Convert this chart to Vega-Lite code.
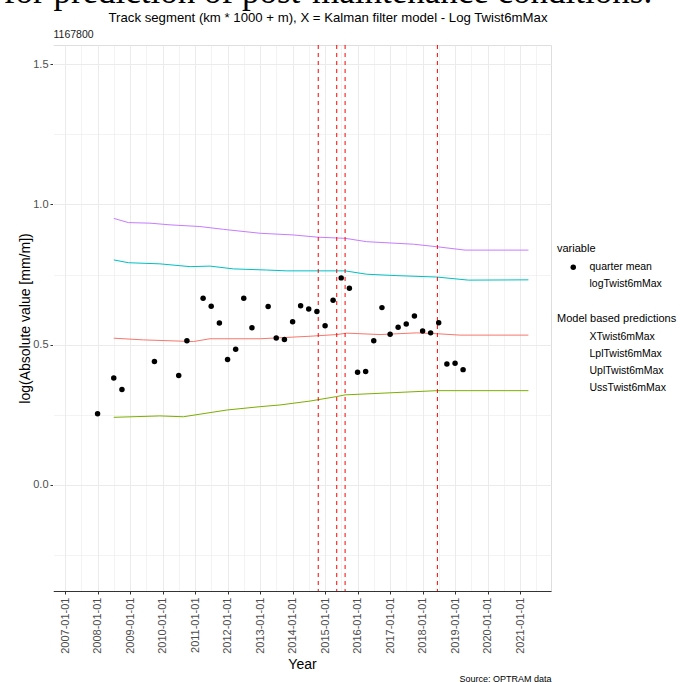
{
  "$schema": "https://vega.github.io/schema/vega-lite/v6.json",
  "autosize": {"type": "none"},
  "width": 498,
  "height": 546,
  "padding": {"left": 53, "top": 45, "right": 143, "bottom": 91},
  "background": "white",
  "config": {
    "font": "Liberation Sans",
    "view": {"stroke": "#dedede", "strokeWidth": 1},
    "legend": {
      "titleFontSize": 11,
      "titleFontWeight": "normal",
      "titleColor": "black",
      "labelFontSize": 10.5,
      "labelColor": "black",
      "symbolSize": 30,
      "rowPadding": 6,
      "titlePadding": 8,
      "symbolOffset": 11,
      "labelOffset": 11
    }
  },
  "title": {
    "text": "\u00a0\u00a0for prediction of post-maintenance conditions.",
    "subtitle": "Track segment (km * 1000 + m), X = Kalman filter model - Log Twist6mMax",
    "anchor": "middle",
    "frame": "group",
    "font": "Liberation Serif",
    "fontSize": 35,
    "fontWeight": "normal",
    "color": "black",
    "subtitleFont": "Liberation Sans",
    "subtitleFontSize": 13.2,
    "subtitleColor": "black",
    "subtitlePadding": 2,
    "dx": 26,
    "offset": 5
  },
  "datasets": {
    "points": [
      {"variable": "quarter mean", "date": "2008-01-01", "value": 0.254},
      {"variable": "quarter mean", "date": "2008-07-01", "value": 0.381},
      {"variable": "quarter mean", "date": "2008-10-01", "value": 0.340},
      {"variable": "quarter mean", "date": "2009-10-01", "value": 0.440},
      {"variable": "quarter mean", "date": "2010-07-01", "value": 0.390},
      {"variable": "quarter mean", "date": "2010-10-01", "value": 0.514},
      {"variable": "quarter mean", "date": "2011-04-01", "value": 0.665},
      {"variable": "quarter mean", "date": "2011-07-01", "value": 0.637},
      {"variable": "quarter mean", "date": "2011-10-01", "value": 0.577},
      {"variable": "quarter mean", "date": "2012-01-01", "value": 0.447},
      {"variable": "quarter mean", "date": "2012-04-01", "value": 0.484},
      {"variable": "quarter mean", "date": "2012-07-01", "value": 0.665},
      {"variable": "quarter mean", "date": "2012-10-01", "value": 0.560},
      {"variable": "quarter mean", "date": "2013-04-01", "value": 0.636},
      {"variable": "quarter mean", "date": "2013-07-01", "value": 0.524},
      {"variable": "quarter mean", "date": "2013-10-01", "value": 0.518},
      {"variable": "quarter mean", "date": "2014-01-01", "value": 0.582},
      {"variable": "quarter mean", "date": "2014-04-01", "value": 0.639},
      {"variable": "quarter mean", "date": "2014-07-01", "value": 0.627},
      {"variable": "quarter mean", "date": "2014-10-01", "value": 0.618},
      {"variable": "quarter mean", "date": "2015-01-01", "value": 0.567},
      {"variable": "quarter mean", "date": "2015-04-01", "value": 0.658},
      {"variable": "quarter mean", "date": "2015-07-01", "value": 0.738},
      {"variable": "quarter mean", "date": "2015-10-01", "value": 0.701},
      {"variable": "quarter mean", "date": "2016-01-01", "value": 0.402},
      {"variable": "quarter mean", "date": "2016-04-01", "value": 0.404},
      {"variable": "quarter mean", "date": "2016-07-01", "value": 0.514},
      {"variable": "quarter mean", "date": "2016-10-01", "value": 0.632},
      {"variable": "quarter mean", "date": "2017-01-01", "value": 0.537},
      {"variable": "quarter mean", "date": "2017-04-01", "value": 0.562},
      {"variable": "quarter mean", "date": "2017-07-01", "value": 0.574},
      {"variable": "quarter mean", "date": "2017-10-01", "value": 0.602},
      {"variable": "quarter mean", "date": "2018-01-01", "value": 0.549},
      {"variable": "quarter mean", "date": "2018-04-01", "value": 0.542},
      {"variable": "quarter mean", "date": "2018-07-01", "value": 0.578},
      {"variable": "quarter mean", "date": "2018-10-01", "value": 0.431},
      {"variable": "quarter mean", "date": "2019-01-01", "value": 0.434},
      {"variable": "quarter mean", "date": "2019-04-01", "value": 0.411}
    ],
    "lines": [
      {"series": "UssTwist6mMax", "date": "2008-07-01", "value": 0.950},
      {"series": "UssTwist6mMax", "date": "2008-12-13", "value": 0.935},
      {"series": "UssTwist6mMax", "date": "2009-08-12", "value": 0.933},
      {"series": "UssTwist6mMax", "date": "2010-03-25", "value": 0.927},
      {"series": "UssTwist6mMax", "date": "2011-02-24", "value": 0.921},
      {"series": "UssTwist6mMax", "date": "2011-11-14", "value": 0.911},
      {"series": "UssTwist6mMax", "date": "2013-01-01", "value": 0.897},
      {"series": "UssTwist6mMax", "date": "2014-01-08", "value": 0.891},
      {"series": "UssTwist6mMax", "date": "2014-10-12", "value": 0.883},
      {"series": "UssTwist6mMax", "date": "2015-08-14", "value": 0.879},
      {"series": "UssTwist6mMax", "date": "2016-04-12", "value": 0.867},
      {"series": "UssTwist6mMax", "date": "2017-09-20", "value": 0.858},
      {"series": "UssTwist6mMax", "date": "2018-06-10", "value": 0.849},
      {"series": "UssTwist6mMax", "date": "2019-04-23", "value": 0.837},
      {"series": "UssTwist6mMax", "date": "2021-04-04", "value": 0.837},
      {"series": "UplTwist6mMax", "date": "2008-07-01", "value": 0.802},
      {"series": "UplTwist6mMax", "date": "2008-12-13", "value": 0.792},
      {"series": "UplTwist6mMax", "date": "2009-12-01", "value": 0.788},
      {"series": "UplTwist6mMax", "date": "2010-11-06", "value": 0.778},
      {"series": "UplTwist6mMax", "date": "2011-06-17", "value": 0.780},
      {"series": "UplTwist6mMax", "date": "2012-03-07", "value": 0.770},
      {"series": "UplTwist6mMax", "date": "2013-03-15", "value": 0.766},
      {"series": "UplTwist6mMax", "date": "2013-10-27", "value": 0.763},
      {"series": "UplTwist6mMax", "date": "2015-08-14", "value": 0.763},
      {"series": "UplTwist6mMax", "date": "2016-04-12", "value": 0.751},
      {"series": "UplTwist6mMax", "date": "2017-03-18", "value": 0.746},
      {"series": "UplTwist6mMax", "date": "2018-06-10", "value": 0.741},
      {"series": "UplTwist6mMax", "date": "2019-05-30", "value": 0.730},
      {"series": "UplTwist6mMax", "date": "2021-04-04", "value": 0.731},
      {"series": "XTwist6mMax", "date": "2008-07-01", "value": 0.523},
      {"series": "XTwist6mMax", "date": "2009-05-30", "value": 0.517},
      {"series": "XTwist6mMax", "date": "2010-12-13", "value": 0.511},
      {"series": "XTwist6mMax", "date": "2011-06-17", "value": 0.521},
      {"series": "XTwist6mMax", "date": "2013-01-01", "value": 0.521},
      {"series": "XTwist6mMax", "date": "2014-07-16", "value": 0.530},
      {"series": "XTwist6mMax", "date": "2015-05-12", "value": 0.536},
      {"series": "XTwist6mMax", "date": "2015-09-02", "value": 0.541},
      {"series": "XTwist6mMax", "date": "2016-09-10", "value": 0.536},
      {"series": "XTwist6mMax", "date": "2017-10-27", "value": 0.542},
      {"series": "XTwist6mMax", "date": "2018-06-10", "value": 0.539},
      {"series": "XTwist6mMax", "date": "2019-02-24", "value": 0.534},
      {"series": "XTwist6mMax", "date": "2021-04-04", "value": 0.534},
      {"series": "LplTwist6mMax", "date": "2008-07-01", "value": 0.241},
      {"series": "LplTwist6mMax", "date": "2009-12-01", "value": 0.246},
      {"series": "LplTwist6mMax", "date": "2010-08-22", "value": 0.243},
      {"series": "LplTwist6mMax", "date": "2011-12-24", "value": 0.267},
      {"series": "LplTwist6mMax", "date": "2013-01-01", "value": 0.279},
      {"series": "LplTwist6mMax", "date": "2013-08-12", "value": 0.285},
      {"series": "LplTwist6mMax", "date": "2014-07-16", "value": 0.299},
      {"series": "LplTwist6mMax", "date": "2015-05-12", "value": 0.315},
      {"series": "LplTwist6mMax", "date": "2015-08-14", "value": 0.321},
      {"series": "LplTwist6mMax", "date": "2018-06-10", "value": 0.336},
      {"series": "LplTwist6mMax", "date": "2021-04-04", "value": 0.336}
    ],
    "vlines": [
      {"date": "2014-10-16"},
      {"date": "2015-05-12"},
      {"date": "2015-08-14"},
      {"date": "2018-06-16"}
    ]
  },
  "resolve": {"axis": {"x": "independent"}},
  "layer": [
    {
      "data": {"name": "lines"},
      "mark": {"type": "line", "strokeWidth": 1},
      "encoding": {
        "x": {
          "field": "date", "type": "temporal",
          "scale": {"type": "utc", "domain": [{"year": 2006, "month": 8, "date": 18, "utc": true}, {"year": 2021, "month": 12, "date": 14, "utc": true}]},
          "axis": {
            "orient": "bottom",
            "values": [
              {"year": 2007, "month": 1, "date": 1, "utc": true}, {"year": 2007, "month": 7, "date": 1, "utc": true},
              {"year": 2008, "month": 1, "date": 1, "utc": true}, {"year": 2008, "month": 7, "date": 1, "utc": true},
              {"year": 2009, "month": 1, "date": 1, "utc": true}, {"year": 2009, "month": 7, "date": 1, "utc": true},
              {"year": 2010, "month": 1, "date": 1, "utc": true}, {"year": 2010, "month": 7, "date": 1, "utc": true},
              {"year": 2011, "month": 1, "date": 1, "utc": true}, {"year": 2011, "month": 7, "date": 1, "utc": true},
              {"year": 2012, "month": 1, "date": 1, "utc": true}, {"year": 2012, "month": 7, "date": 1, "utc": true},
              {"year": 2013, "month": 1, "date": 1, "utc": true}, {"year": 2013, "month": 7, "date": 1, "utc": true},
              {"year": 2014, "month": 1, "date": 1, "utc": true}, {"year": 2014, "month": 7, "date": 1, "utc": true},
              {"year": 2015, "month": 1, "date": 1, "utc": true}, {"year": 2015, "month": 7, "date": 1, "utc": true},
              {"year": 2016, "month": 1, "date": 1, "utc": true}, {"year": 2016, "month": 7, "date": 1, "utc": true},
              {"year": 2017, "month": 1, "date": 1, "utc": true}, {"year": 2017, "month": 7, "date": 1, "utc": true},
              {"year": 2018, "month": 1, "date": 1, "utc": true}, {"year": 2018, "month": 7, "date": 1, "utc": true},
              {"year": 2019, "month": 1, "date": 1, "utc": true}, {"year": 2019, "month": 7, "date": 1, "utc": true},
              {"year": 2020, "month": 1, "date": 1, "utc": true}, {"year": 2020, "month": 7, "date": 1, "utc": true},
              {"year": 2021, "month": 1, "date": 1, "utc": true}, {"year": 2021, "month": 7, "date": 1, "utc": true}
            ],
            "labelExpr": "utcmonth(datum.value) == 0 ? utcFormat(datum.value, '%Y-%m-%d') : ''",
            "labelOverlap": false,
            "labelFlush": false,
            "labelAngle": 270,
            "labelAlign": "right",
            "labelBaseline": "middle",
            "labelFontSize": 11,
            "labelColor": "#4d4d4d",
            "labelPadding": 3,
            "tickSize": 3,
            "tickColor": "#333333",
            "tickOpacity": {"condition": {"test": "utcmonth(datum.value) != 0", "value": 0}, "value": 1},
            "domainColor": "#333333",
            "grid": true,
            "gridColor": "#ebebeb",
            "gridWidth": {"condition": {"test": "utcmonth(datum.value) != 0", "value": 0.6}, "value": 1},
            "title": "Year",
            "titleFontSize": 14,
            "titleFontWeight": "normal",
            "titleColor": "black",
            "titleBaseline": "alphabetic",
            "titleY": 77
          }
        },
        "y": {
          "field": "value", "type": "quantitative",
          "scale": {"domain": [-0.378, 1.568], "nice": false, "zero": false},
          "axis": {
            "values": [-0.25, 0, 0.25, 0.5, 0.75, 1, 1.25, 1.5],
            "labelExpr": "datum.value % 0.5 == 0 ? format(datum.value, '.1f') : ''",
            "labelFontSize": 11,
            "labelColor": "#4d4d4d",
            "labelPadding": 2,
            "tickSize": 3,
            "tickColor": "#333333",
            "tickOpacity": {"condition": {"test": "datum.value % 0.5 != 0", "value": 0}, "value": 1},
            "domain": true,
            "domainColor": "white",
            "grid": true,
            "gridColor": "#ebebeb",
            "gridWidth": {"condition": {"test": "datum.value % 0.5 != 0", "value": 0.6}, "value": 1},
            "title": "log(Absolute value [mm/m])",
            "titleFontSize": 14,
            "titleFontWeight": "normal",
            "titleColor": "black",
            "titleAngle": 270,
            "titleAlign": "center",
            "titleBaseline": "middle",
            "titleX": -28,
            "titleY": 273
          }
        },
        "color": {
          "field": "series", "type": "nominal",
          "scale": {"domain": ["XTwist6mMax", "LplTwist6mMax", "UplTwist6mMax", "UssTwist6mMax"], "range": ["#F8766D", "#7CAE00", "#00BFC4", "#C77CFF"]},
          "legend": {"title": "Model based predictions", "orient": "none", "legendX": 504, "legendY": 268, "symbolType": "circle", "symbolOpacity": 0}
        },
        "detail": {"field": "series"}
      }
    },
    {
      "data": {"name": "vlines"},
      "mark": {"type": "rule", "color": "#ff0000", "strokeWidth": 1, "strokeDash": [4, 4]},
      "encoding": {
        "x": {
          "field": "date", "type": "temporal",
          "scale": {"type": "utc", "domain": [{"year": 2006, "month": 8, "date": 18, "utc": true}, {"year": 2021, "month": 12, "date": 14, "utc": true}]},
          "axis": {
            "orient": "top", "labels": false, "ticks": false, "domain": false, "grid": false,
            "title": "1167800", "titleX": 0, "titleY": -7.5, "titleAlign": "left", "titleBaseline": "alphabetic",
            "titleFontSize": 10.5, "titleFontWeight": "normal", "titleColor": "#1a1a1a"
          }
        }
      }
    },
    {
      "data": {"name": "points"},
      "mark": {"type": "point", "filled": true, "size": 30, "opacity": 1, "color": "black"},
      "encoding": {
        "x": {
          "field": "date", "type": "temporal",
          "scale": {"type": "utc", "domain": [{"year": 2006, "month": 8, "date": 18, "utc": true}, {"year": 2021, "month": 12, "date": 14, "utc": true}]},
          "axis": {
            "orient": "bottom", "labels": false, "ticks": false, "domain": false, "grid": false,
            "title": "Source: OPTRAM data", "titleX": 498, "titleY": 90, "titleAlign": "right", "titleBaseline": "alphabetic",
            "titleFontSize": 9, "titleFontWeight": "normal", "titleColor": "black"
          }
        },
        "y": {"field": "value", "type": "quantitative"},
        "shape": {
          "field": "variable", "type": "nominal",
          "scale": {"domain": ["quarter mean", "logTwist6mMax"], "range": ["circle", "M0,0"]},
          "legend": {"title": "variable", "orient": "none", "legendX": 504, "legendY": 198, "symbolFillColor": "black", "symbolStrokeColor": "black", "symbolStrokeWidth": 0}
        }
      }
    }
  ]
}
